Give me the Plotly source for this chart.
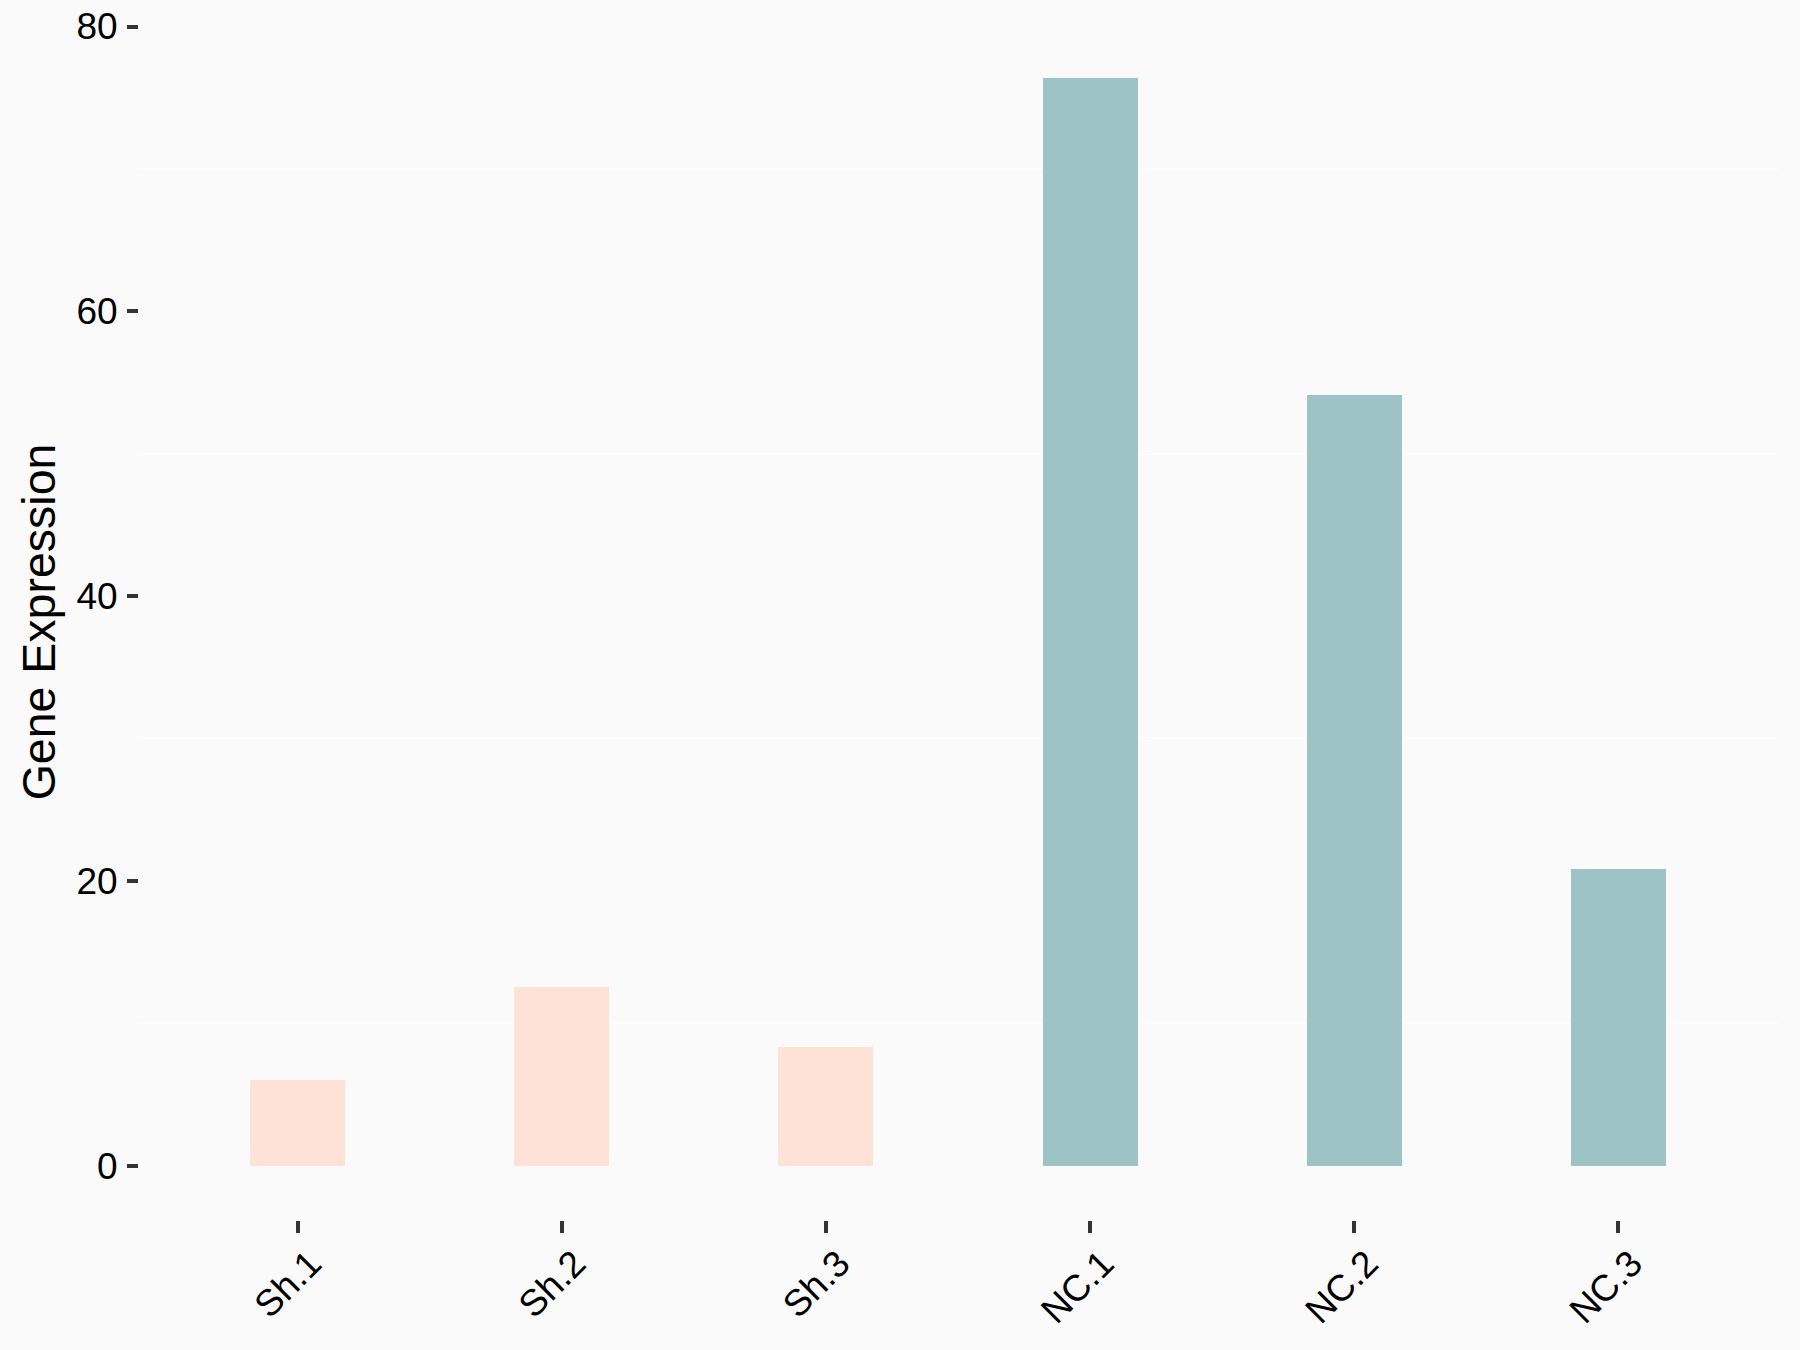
import plotly.graph_objects as go

categories = ["Sh.1", "Sh.2", "Sh.3", "NC.1", "NC.2", "NC.3"]
values = [6.0, 12.52, 8.32, 76.36, 54.15, 20.86]
groups = ["Sh", "Sh", "Sh", "NC", "NC", "NC"]
group_colors = {"Sh": "#FEE1D7", "NC": "#9DC3C7"}
y_ticks = [0, 20, 40, 60, 80]

ymax = max(values)
pad = 0.05 * ymax

fig = go.Figure()
fig.add_trace(go.Bar(
    x=categories,
    y=values,
    width=0.36,
    marker=dict(color=[group_colors[g] for g in groups], line=dict(width=0)),
    showlegend=False,
))

font_family = "Liberation Sans, Arial, sans-serif"
fig.update_layout(
    width=1800, height=1350,
    margin=dict(l=139, r=23, t=24, b=130, autoexpand=False),
    paper_bgcolor="#FAFAFA",
    plot_bgcolor="#FAFAFA",
    font=dict(family=font_family, color="black", size=37),
    bargap=0,
)
fig.update_xaxes(
    type="category",
    categoryorder="array", categoryarray=categories,
    range=[-0.6, len(categories) - 0.4],
    showgrid=False, zeroline=False, showline=False,
    ticks="outside", ticklen=12, tickwidth=4, tickcolor="#333333",
    tickangle=-45,
    tickfont=dict(size=37, color="black"),
    ticklabelshift=13,
    ticklabelstandoff=-6,
    automargin=False,
)
fig.update_yaxes(
    range=[-pad, ymax + pad],
    tickvals=y_ticks,
    showgrid=False, zeroline=False, showline=False,
    ticks="outside", ticklen=11, tickwidth=4, tickcolor="#333333",
    tickfont=dict(size=37, color="black"),
    ticklabelstandoff=2,
    minor=dict(tick0=10, dtick=20, showgrid=True, gridcolor="white", gridwidth=2, ticklen=0),
    title=dict(text="Gene Expression", font=dict(size=46.5, color="black"), standoff=6),
    automargin=False,
)
fig.write_html("out.html", config={"displayModeBar": False},
               post_script="document.body.style.margin='0';")
